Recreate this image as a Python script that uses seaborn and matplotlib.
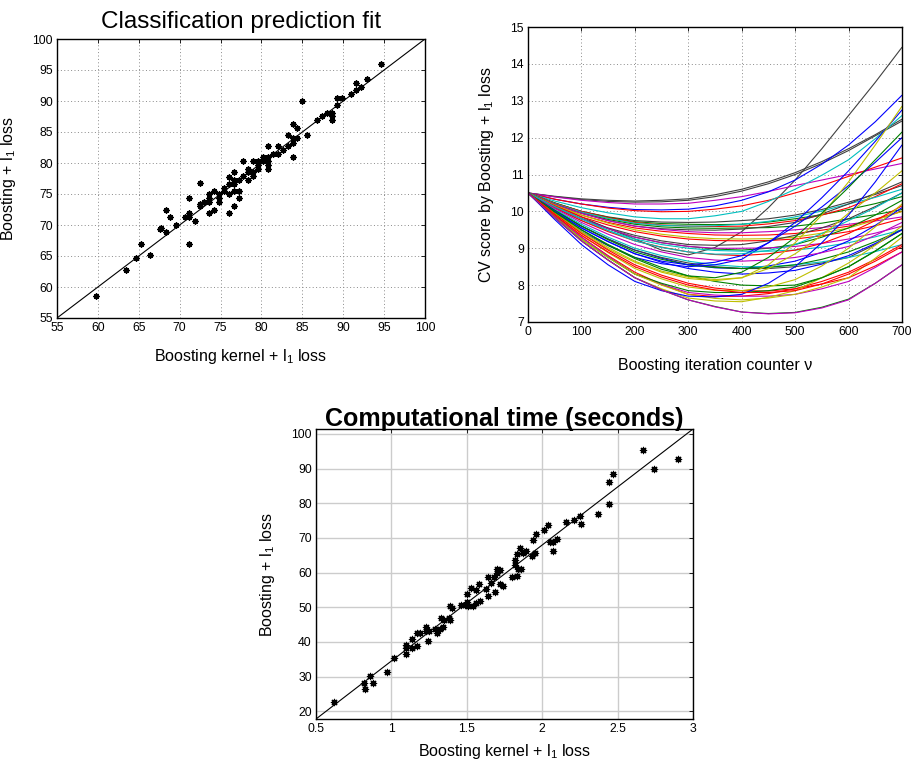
import numpy as np
import pandas as pd
import matplotlib
matplotlib.use("Agg")
import matplotlib.pyplot as plt
import seaborn as sns

sns.set_theme(style="white")
plt.rcParams['font.family'] = ['Liberation Sans', 'DejaVu Sans']
plt.rcParams['mathtext.default'] = 'regular'
plt.rcParams['text.color'] = 'black'
plt.rcParams['axes.labelcolor'] = 'black'
plt.rcParams['axes.titlecolor'] = 'black'

# ---------------- Data: classification prediction fit ----------------
cls_kernel = [59.8, 63.4, 64.6, 65.3, 66.4, 67.6, 67.7, 68.3, 68.3, 68.8, 69.5, 70.7,
              71.2, 71.2, 71.2, 71.2, 71.9, 72.5, 72.5, 72.5, 73.0, 73.6, 73.6, 73.6,
              73.6, 74.2, 74.2, 74.8, 74.8, 74.8, 75.4, 75.4, 76.0, 76.0, 76.0, 76.0,
              76.6, 76.6, 76.6, 76.6, 76.6, 77.2, 77.2, 77.2, 77.8, 77.8, 78.4, 78.4,
              78.4, 79.0, 79.0, 79.0, 79.6, 79.6, 79.6, 80.2, 80.2, 80.8, 80.8, 80.8,
              80.8, 80.8, 81.4, 82.0, 82.0, 82.6, 83.2, 83.2, 83.8, 83.8, 83.8, 83.8,
              84.4, 84.4, 85.0, 85.6, 86.8, 87.4, 88.0, 88.6, 88.6, 88.6, 89.2, 89.2,
              89.8, 91.0, 91.6, 91.6, 92.2, 92.9, 94.6]
cls_boost = [58.6, 62.8, 64.7, 67.0, 65.2, 69.4, 69.5, 72.4, 68.9, 71.3, 70.0, 71.3,
             74.3, 71.9, 71.3, 67.0, 70.7, 76.7, 73.4, 73.0, 73.7, 75.0, 74.4, 73.7,
             71.9, 75.5, 72.4, 75.0, 74.3, 73.7, 76.0, 75.5, 77.8, 76.6, 75.0, 71.9,
             78.5, 77.3, 76.6, 75.5, 73.0, 77.3, 75.5, 74.3, 80.3, 77.9, 79.1, 77.3,
             78.5, 80.3, 78.5, 77.9, 80.3, 79.6, 79.1, 80.9, 80.3, 82.7, 80.9, 80.3,
             79.6, 79.1, 81.5, 82.7, 81.5, 82.1, 84.5, 82.7, 86.3, 84.0, 83.3, 80.9,
             85.7, 84.0, 90.0, 84.5, 87.0, 87.6, 88.1, 88.1, 87.6, 87.0, 89.4, 90.5,
             90.5, 91.1, 92.9, 91.8, 92.3, 93.6, 96.0]
cls_ref_x = [55, 100]
cls_ref_y = [55, 100]
cls_ticks = [55, 60, 65, 70, 75, 80, 85, 90, 95, 100]

# ---------------- Data: CV score curves (read every 50 iterations) ----------------
iter_counter = [0, 50, 100, 150, 200, 250, 300, 350, 400, 450, 500, 550, 600, 650, 700]
cv_curves = [
    ('k', [10.5, 10.17, 9.85, 9.54, 9.25, 8.95, 8.82, 9.02, 9.45, 10.1, 10.85, 11.7, 12.6, 13.5, 14.45]),
    ('k', [10.5, 10.4, 10.32, 10.27, 10.25, 10.26, 10.3, 10.4, 10.55, 10.75, 11.0, 11.3, 11.65, 12.05, 12.45]),
    ('k', [10.5, 10.41, 10.34, 10.3, 10.28, 10.3, 10.34, 10.45, 10.6, 10.8, 11.05, 11.35, 11.7, 12.08, 12.5]),
    ('m', [10.5, 10.39, 10.3, 10.24, 10.2, 10.2, 10.22, 10.3, 10.4, 10.54, 10.7, 10.85, 11.0, 11.15, 11.3]),
    ('b', [10.5, 10.33, 10.2, 10.11, 10.05, 10.04, 10.06, 10.15, 10.3, 10.53, 10.85, 11.28, 11.8, 12.43, 13.15]),
    ('r', [10.5, 10.33, 10.2, 10.09, 10.02, 9.99, 10.0, 10.06, 10.15, 10.3, 10.5, 10.7, 10.95, 11.2, 11.45]),
    ('c', [10.5, 10.28, 10.1, 9.96, 9.85, 9.8, 9.8, 9.88, 10.0, 10.27, 10.6, 10.98, 11.4, 11.97, 12.6]),
    ('k', [10.5, 10.23, 10.0, 9.85, 9.75, 9.71, 9.7, 9.71, 9.75, 9.8, 9.9, 10.05, 10.25, 10.46, 10.7]),
    ('g', [10.5, 10.23, 10.0, 9.84, 9.72, 9.67, 9.65, 9.64, 9.65, 9.71, 9.8, 9.91, 10.05, 10.21, 10.4]),
    ('r', [10.5, 10.22, 10.0, 9.83, 9.7, 9.63, 9.6, 9.59, 9.6, 9.66, 9.75, 9.9, 10.1, 10.4, 10.75]),
    ('c', [10.5, 10.21, 9.98, 9.81, 9.68, 9.62, 9.6, 9.61, 9.65, 9.73, 9.85, 10.01, 10.2, 10.38, 10.6]),
    ('g', [10.5, 10.19, 9.95, 9.78, 9.65, 9.58, 9.55, 9.54, 9.55, 9.56, 9.6, 9.68, 9.8, 9.91, 10.05]),
    ('k', [10.5, 10.19, 9.95, 9.75, 9.6, 9.53, 9.5, 9.49, 9.52, 9.59, 9.7, 9.93, 10.2, 10.49, 10.8]),
    ('m', [10.5, 10.19, 9.95, 9.75, 9.6, 9.51, 9.45, 9.42, 9.42, 9.45, 9.5, 9.56, 9.65, 9.74, 9.85]),
    ('r', [10.5, 10.17, 9.9, 9.7, 9.55, 9.46, 9.4, 9.36, 9.35, 9.36, 9.4, 9.49, 9.6, 9.79, 10.0]),
    ('y', [10.5, 10.17, 9.9, 9.68, 9.5, 9.38, 9.3, 9.26, 9.25, 9.26, 9.3, 9.41, 9.55, 9.76, 10.0]),
    ('r', [10.5, 10.15, 9.85, 9.63, 9.45, 9.33, 9.25, 9.21, 9.2, 9.21, 9.25, 9.34, 9.45, 9.61, 9.8]),
    ('k', [10.5, 10.12, 9.8, 9.55, 9.35, 9.2, 9.1, 9.08, 9.1, 9.2, 9.35, 9.55, 9.8, 10.13, 10.5]),
    ('g', [10.5, 10.12, 9.8, 9.53, 9.3, 9.15, 9.05, 8.98, 8.95, 9.0, 9.1, 9.3, 9.55, 9.9, 10.3]),
    ('m', [10.5, 10.12, 9.8, 9.53, 9.3, 9.15, 9.05, 9.0, 9.0, 9.01, 9.05, 9.13, 9.25, 9.41, 9.6]),
    ('c', [10.5, 10.1, 9.75, 9.48, 9.25, 9.1, 9.0, 8.94, 8.92, 8.92, 8.95, 9.03, 9.15, 9.31, 9.5]),
    ('r', [10.5, 10.1, 9.75, 9.45, 9.2, 9.03, 8.9, 8.83, 8.8, 8.85, 8.95, 9.13, 9.4, 9.75, 10.15]),
    ('b', [10.5, 10.03, 9.6, 9.25, 8.95, 8.73, 8.55, 8.47, 8.45, 8.52, 8.65, 8.89, 9.2, 9.62, 10.1]),
    ('k', [10.5, 10.03, 9.6, 9.25, 8.95, 8.75, 8.6, 8.5, 8.45, 8.45, 8.5, 8.6, 8.75, 9.1, 9.5]),
    ('c', [10.5, 10.05, 9.65, 9.3, 9.0, 8.8, 8.65, 8.55, 8.5, 8.5, 8.55, 8.63, 8.75, 8.91, 9.1]),
    ('m', [10.5, 10.08, 9.7, 9.38, 9.1, 8.9, 8.75, 8.68, 8.65, 8.68, 8.75, 8.88, 9.05, 9.35, 9.7]),
    ('g', [10.5, 10.03, 9.6, 9.23, 8.9, 8.7, 8.55, 8.48, 8.45, 8.48, 8.55, 8.7, 8.9, 9.18, 9.5]),
    ('b', [10.5, 10.0, 9.55, 9.18, 8.85, 8.62, 8.45, 8.35, 8.3, 8.33, 8.4, 8.57, 8.8, 9.13, 9.5]),
    ('b', [10.5, 10.0, 9.55, 9.18, 8.85, 8.65, 8.55, 8.62, 8.8, 9.15, 9.6, 10.12, 10.7, 11.33, 12.0]),
    ('b', [10.5, 9.95, 9.45, 9.07, 8.75, 8.58, 8.5, 8.55, 8.7, 9.15, 9.7, 10.37, 11.1, 11.9, 12.75]),
    ('c', [10.5, 10.13, 9.8, 9.48, 9.2, 9.02, 8.9, 8.84, 8.85, 8.94, 9.1, 9.4, 9.75, 10.1, 10.5]),
    ('g', [10.5, 9.98, 9.5, 9.1, 8.75, 8.48, 8.25, 8.1, 8.0, 7.98, 8.0, 8.2, 8.5, 8.92, 9.4]),
    ('y', [10.5, 9.93, 9.42, 8.98, 8.62, 8.35, 8.18, 8.12, 8.2, 8.55, 9.15, 9.9, 10.8, 11.8, 12.85]),
    ('y', [10.5, 9.95, 9.45, 9.02, 8.65, 8.38, 8.22, 8.15, 8.2, 8.45, 8.85, 9.35, 9.95, 10.5, 11.1]),
    ('g', [10.5, 9.98, 9.5, 9.08, 8.72, 8.43, 8.25, 8.2, 8.35, 8.75, 9.3, 9.95, 10.65, 11.4, 12.15]),
    ('r', [10.5, 9.93, 9.4, 8.95, 8.55, 8.27, 8.05, 7.92, 7.85, 7.84, 7.9, 8.03, 8.2, 8.52, 8.9]),
    ('y', [10.5, 9.9, 9.35, 8.88, 8.45, 8.17, 7.95, 7.86, 7.85, 7.95, 8.15, 8.52, 9.0, 9.58, 10.2]),
    ('r', [10.5, 9.88, 9.3, 8.8, 8.35, 8.02, 7.75, 7.69, 7.7, 7.77, 7.9, 8.1, 8.35, 8.7, 9.1]),
    ('m', [10.5, 9.88, 9.3, 8.78, 8.3, 8.02, 7.8, 7.73, 7.7, 7.7, 7.75, 7.9, 8.1, 8.48, 8.9]),
    ('y', [10.5, 9.83, 9.2, 8.68, 8.2, 7.9, 7.65, 7.57, 7.55, 7.67, 7.85, 8.2, 8.6, 9.08, 9.6]),
    ('g', [10.5, 9.85, 9.25, 8.75, 8.3, 8.05, 7.85, 7.8, 7.8, 7.85, 7.95, 8.2, 8.5, 8.93, 9.4]),
    ('y', [10.5, 9.85, 9.25, 8.75, 8.3, 8.0, 7.75, 7.64, 7.6, 7.65, 7.75, 7.95, 8.2, 8.73, 9.3]),
    ('b', [10.5, 9.78, 9.1, 8.55, 8.1, 7.85, 7.7, 7.68, 7.75, 8.05, 8.5, 9.15, 9.9, 10.8, 11.8]),
    ('r', [10.5, 9.9, 9.35, 8.9, 8.5, 8.22, 8.0, 7.87, 7.8, 7.8, 7.85, 8.03, 8.3, 8.65, 9.05]),
    ('g', [10.5, 9.83, 9.2, 8.68, 8.2, 7.87, 7.6, 7.42, 7.27, 7.23, 7.26, 7.4, 7.62, 8.05, 8.55]),
    ('m', [10.5, 9.83, 9.2, 8.68, 8.2, 7.87, 7.6, 7.41, 7.27, 7.22, 7.25, 7.38, 7.6, 8.05, 8.55]),
]
matlab_colors = {'b': (0, 0, 1), 'g': (0, 0.5, 0), 'r': (1, 0, 0),
                 'c': (0, 0.75, 0.75), 'm': (0.75, 0, 0.75),
                 'y': (0.75, 0.75, 0), 'k': (0.25, 0.25, 0.25)}
cv_xticks = [0, 100, 200, 300, 400, 500, 600, 700]
cv_yticks = [7, 8, 9, 10, 11, 12, 13, 14, 15]

# ---------------- Data: computational time ----------------
time_kernel = [0.617, 0.816, 0.824, 0.86, 0.877, 0.974, 1.014, 1.094, 1.094, 1.10,
               1.135, 1.135, 1.17, 1.17, 1.19, 1.23, 1.23, 1.24, 1.25, 1.29, 1.30,
               1.32, 1.33, 1.34, 1.35, 1.38, 1.39, 1.39, 1.40, 1.46, 1.49, 1.50, 1.50,
               1.51, 1.53, 1.54, 1.56, 1.56, 1.58, 1.59, 1.63, 1.64, 1.64, 1.66, 1.68,
               1.69, 1.70, 1.70, 1.72, 1.72, 1.74, 1.80, 1.82, 1.82, 1.83, 1.83, 1.84,
               1.85, 1.86, 1.87, 1.89, 1.93, 1.94, 1.95, 1.96, 2.01, 2.04, 2.05, 2.07,
               2.07, 2.10, 2.16, 2.21, 2.25, 2.26, 2.37, 2.44, 2.44, 2.47, 2.67, 2.74, 2.90]
time_boost = [22.7, 28.2, 26.5, 30.1, 28.2, 31.3, 35.5, 36.6, 39.0, 38.3, 40.9, 38.3,
              38.75, 42.6, 42.6, 44.3, 43.1, 40.2, 43.1, 43.75, 42.6, 43.75, 46.8, 44.3,
              46.4, 46.8, 46.4, 50.3, 49.7, 50.6, 50.6, 51.4, 53.7, 50.3, 55.6, 50.3,
              54.9, 51.1, 56.8, 51.7, 55.3, 58.75, 53.4, 57.0, 58.75, 54.3, 59.9, 61.1,
              60.7, 56.8, 56.1, 58.75, 63.5, 62.3, 65.5, 58.9, 61.1, 67.1, 61.1, 65.7,
              66.3, 64.9, 69.5, 65.7, 71.1, 72.4, 73.7, 68.75, 66.2, 68.75, 69.7, 74.5,
              75.3, 76.3, 74.1, 77.0, 79.7, 86.1, 88.3, 95.3, 89.9, 92.8]
time_ref_x = [0.5, 3.0]
time_ref_y = [17.8, 101.4]
time_xticks = [0.5, 1, 1.5, 2, 2.5, 3]
time_xticklabels = ['0.5', '1', '1.5', '2', '2.5', '3']
time_yticks = [20, 30, 40, 50, 60, 70, 80, 90, 100]

# ---------------- Figure ----------------
W, H = 916, 766
fig = plt.figure(figsize=(W / 100, H / 100), dpi=100)
fig.patch.set_facecolor('white')

def px_axes(l, t, r, b):
    return fig.add_axes([l / W, 1 - b / H, (r - l) / W, (b - t) / H])

tick_fs = 8.8
label_fs = 11.5

def style_axes(ax, grid_style):
    ax.tick_params(direction='in', top=True, right=True, length=3, width=0.6,
                   labelsize=tick_fs, colors='black', pad=3)
    for s in ax.spines.values():
        s.set_color('black')
        s.set_linewidth(1.0)
        s.set_visible(True)
    if grid_style == 'dotted':
        ax.grid(True, linestyle=(0, (1, 2.5)), color='#8a8a8a', linewidth=0.7)
    else:
        ax.grid(True, linestyle='-', color='#cccccc', linewidth=1.0)
    ax.set_axisbelow(True)

# --- Top-left ---
ax1 = px_axes(57, 39, 425, 318)
df1 = pd.DataFrame({'kernel': cls_kernel, 'boost': cls_boost})
sns.lineplot(x=cls_ref_x, y=cls_ref_y, ax=ax1, color='black', linewidth=0.8)
sns.scatterplot(data=df1, x='kernel', y='boost', ax=ax1, marker=(8, 2, 0),
                color='black', s=11, linewidth=1.3, edgecolor='black')
ax1.set_xlim(55, 100)
ax1.set_ylim(55, 100)
ax1.set_xticks(cls_ticks)
ax1.set_yticks(cls_ticks)
style_axes(ax1, 'dotted')
ax1.set_title('Classification prediction fit', fontsize=17.5, pad=8, color='black')
ax1.set_xlabel('Boosting kernel + l$_1$ loss', fontsize=label_fs, labelpad=9)
ax1.set_ylabel('Boosting + l$_1$ loss', fontsize=label_fs, labelpad=10)

# --- Top-right ---
ax2 = px_axes(528, 27, 902, 322)
rows = []
for i, (c, vals) in enumerate(cv_curves):
    assert len(vals) == len(iter_counter)
    for xv, yv in zip(iter_counter, vals):
        rows.append({'curve': i, 'iter': xv, 'cv': yv})
df2 = pd.DataFrame(rows)
palette = [matlab_colors[c] for c, _ in cv_curves]
sns.lineplot(data=df2, x='iter', y='cv', hue='curve', palette=palette,
             legend=False, ax=ax2, linewidth=0.8)
ax2.set_xlim(0, 700)
ax2.set_ylim(7, 15)
ax2.set_xticks(cv_xticks)
ax2.set_yticks(cv_yticks)
style_axes(ax2, 'dotted')
ax2.set_xlabel('Boosting iteration counter ν', fontsize=label_fs, labelpad=14)
ax2.set_ylabel('CV score by Boosting + l$_1$ loss', fontsize=label_fs, labelpad=10)

# --- Bottom ---
ax3 = px_axes(316, 429, 693, 719)
df3 = pd.DataFrame({'kernel': time_kernel, 'boost': time_boost})
sns.lineplot(x=time_ref_x, y=time_ref_y, ax=ax3, color='black', linewidth=0.8)
sns.scatterplot(data=df3, x='kernel', y='boost', ax=ax3, marker=(8, 2, 0),
                color='black', s=20, linewidth=0.9, edgecolor='black')
ax3.set_xlim(0.5, 3.0)
ax3.set_ylim(17.8, 101.4)
ax3.set_xticks(time_xticks)
ax3.set_xticklabels(time_xticklabels)
ax3.set_yticks(time_yticks)
style_axes(ax3, 'solid')
ax3.set_title('Computational time (seconds)', fontsize=18, fontweight='bold', pad=2,
              color='black')
ax3.set_xlabel('Boosting kernel + l$_1$ loss', fontsize=label_fs, labelpad=5)
ax3.set_ylabel('Boosting + l$_1$ loss', fontsize=label_fs, labelpad=10)

fig.savefig('out.png', dpi=100, facecolor='white')
